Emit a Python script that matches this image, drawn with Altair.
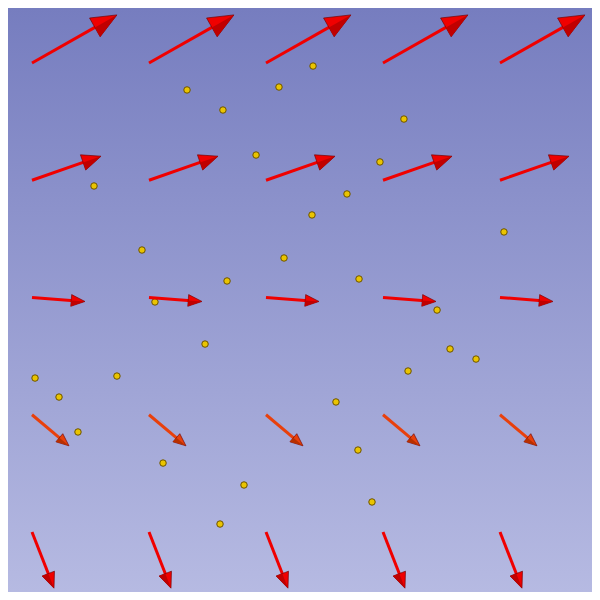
import altair as alt
import numpy as np
import pandas as pd

# grid of arrow tails (grid units)
grid_cols = [0, 1, 2, 3, 4]
grid_rows = [4, 3, 2, 1, 0]

# vector components per row, top to bottom (grid units, v positive up)
row_u = [0.726, 0.590, 0.453, 0.316, 0.188]
row_v = [0.410, 0.205, -0.034, -0.265, -0.479]

# scattered markers
dot_x = [2.402, 1.325, 2.111, 1.632, 3.179, 1.915, 2.974, 0.530, 2.692, 2.393,
         4.034, 0.940, 2.154, 1.667, 2.795, 1.051, 3.462, 1.479, 3.573, 3.795,
         3.214, 0.026, 0.726, 0.231, 2.598, 0.393, 2.786, 1.120, 1.812, 2.906,
         1.607]
dot_y = [3.974, 3.770, 3.795, 3.599, 3.522, 3.215, 3.156, 2.951, 2.883, 2.704,
         2.559, 2.405, 2.337, 2.141, 2.158, 1.962, 1.893, 1.603, 1.561, 1.475,
         1.373, 1.313, 1.330, 1.151, 1.109, 0.853, 0.699, 0.588, 0.401, 0.256,
         0.068]

X_DOMAIN = [-0.2051, 4.7863]
Y_DOMAIN = [-0.5117, 4.469]
W = H = 584
PX_PER_UNIT = W / (X_DOMAIN[1] - X_DOMAIN[0])

rows = []
for r, (y0, u, v) in enumerate(zip(grid_rows, row_u, row_v)):
    for x0 in grid_cols:
        rows.append({"row": r, "x": x0, "y": y0, "u": u, "v": v})
arrows = pd.DataFrame(rows)
mag = np.hypot(arrows["u"], arrows["v"])
head_units = 0.26 * mag
arrows["tx"] = arrows["x"] + arrows["u"]
arrows["ty"] = arrows["y"] + arrows["v"]
arrows["sx"] = arrows["tx"] - 0.8 * head_units * arrows["u"] / mag
arrows["sy"] = arrows["ty"] - 0.8 * head_units * arrows["v"] / mag
arrows["head_size"] = (head_units * PX_PER_UNIT) ** 2
arrows["angle"] = np.degrees(np.arctan2(arrows["u"], arrows["v"])) % 360

dots = pd.DataFrame({"x": dot_x, "y": dot_y})

xs = alt.Scale(domain=X_DOMAIN, nice=False, zero=False)
ys = alt.Scale(domain=Y_DOMAIN, nice=False, zero=False)
row_colors = alt.Scale(domain=[0, 1, 2, 3, 4],
                       range=["#f00000", "#f00000", "#f00000", "#e8400c", "#f00000"])
row_dark = alt.Scale(domain=[0, 1, 2, 3, 4],
                     range=["#c00000", "#c00000", "#c00000", "#b83000", "#c00000"])

background = alt.Chart(pd.DataFrame({"x": [X_DOMAIN[0]], "x2": [X_DOMAIN[1]],
                                     "y": [Y_DOMAIN[1]], "y2": [Y_DOMAIN[0]]})).mark_rect(
    color=alt.Gradient(
        gradient="linear",
        stops=[alt.GradientStop(color="#767dbf", offset=0),
               alt.GradientStop(color="#b6bae2", offset=1)],
        x1=0, x2=0, y1=0, y2=1,
    )
).encode(
    x=alt.X("x:Q", scale=xs, axis=None),
    x2="x2:Q",
    y=alt.Y("y:Q", scale=ys, axis=None),
    y2="y2:Q",
)

base = alt.Chart(arrows)

shaft = base.mark_rule(strokeWidth=3, strokeCap="butt").encode(
    x=alt.X("x:Q", scale=xs, axis=None),
    y=alt.Y("y:Q", scale=ys, axis=None),
    x2="sx:Q",
    y2="sy:Q",
    color=alt.Color("row:O", scale=row_colors, legend=None),
)

head = base.mark_point(
    shape="M0,0 L0.85,2 L-0.85,2 Z", filled=True, opacity=1,
    stroke="#700000", strokeWidth=0.6,
).encode(
    x=alt.X("tx:Q", scale=xs, axis=None),
    y=alt.Y("ty:Q", scale=ys, axis=None),
    size=alt.Size("head_size:Q", scale=None),
    angle=alt.Angle("angle:Q", scale=None),
    fill=alt.Fill("row:O", scale=row_colors, legend=None),
)

head_shade = base.mark_point(
    shape="M0,0 L0.85,2 L0,2 Z", filled=True, opacity=1, strokeWidth=0,
).encode(
    x=alt.X("tx:Q", scale=xs, axis=None),
    y=alt.Y("ty:Q", scale=ys, axis=None),
    size=alt.Size("head_size:Q", scale=None),
    angle=alt.Angle("angle:Q", scale=None),
    fill=alt.Fill("row:O", scale=row_dark, legend=None),
)

points = alt.Chart(dots).mark_point(
    shape="circle", filled=True, size=42, fill="#eac400",
    stroke="#6b5200", strokeWidth=1, opacity=1,
).encode(
    x=alt.X("x:Q", scale=xs, axis=None),
    y=alt.Y("y:Q", scale=ys, axis=None),
)

chart = (
    alt.layer(background, points, shaft, head, head_shade)
    .resolve_scale(fill="independent")
    .properties(width=W, height=H, padding=0)
    .configure_view(strokeOpacity=0)
)

chart.save("out.html", embed_options={"renderer": "svg", "actions": False})
